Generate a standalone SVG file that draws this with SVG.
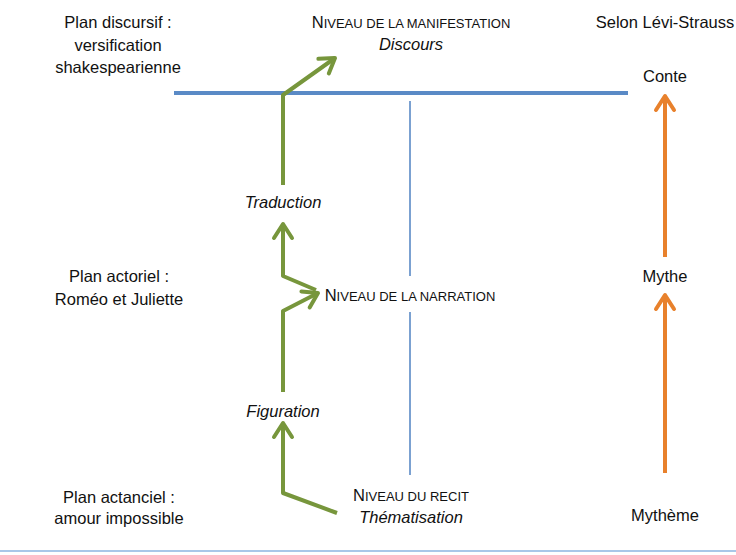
<svg xmlns="http://www.w3.org/2000/svg" width="736" height="555" viewBox="0 0 736 555">
<style>
text{font-family:"Liberation Sans",Arial,sans-serif;font-size:16.5px;fill:#111;text-anchor:middle}
.it{font-style:italic}
.sc{font-size:13px}
.g{fill:none;stroke:#77963c;stroke-width:4;stroke-linejoin:round}
.o{fill:none;stroke:#e8812c;stroke-width:4}
.b{fill:none;stroke:#5a8ac6}
</style>
<defs>
<marker id="ag" markerUnits="userSpaceOnUse" markerWidth="40" markerHeight="40" viewBox="-20 -20 40 40" refX="0" refY="0" orient="auto">
<path d="M-14,-9 L0,0 L-14,9" fill="none" stroke="#77963c" stroke-width="4" stroke-linecap="round" stroke-linejoin="round"/>
</marker>
<marker id="ao" markerUnits="userSpaceOnUse" markerWidth="40" markerHeight="40" viewBox="-20 -20 40 40" refX="0" refY="0" orient="auto">
<path d="M-14,-9 L0,0 L-14,9" fill="none" stroke="#e8812c" stroke-width="4" stroke-linecap="round" stroke-linejoin="round"/>
</marker>
</defs>
<rect width="736" height="555" fill="#fff"/>
<g id="connectors">
<line class="b" x1="174" y1="93" x2="628" y2="93" stroke-width="4"/>
<line class="b" x1="410" y1="101" x2="410" y2="276" stroke-width="1.6"/>
<line class="b" x1="410" y1="312" x2="410" y2="475" stroke-width="1.6"/>
<line x1="0" y1="551" x2="736" y2="551" stroke="#a9c7e8" stroke-width="2"/>
<path class="g" d="M337,513 L283,493 L283,423" marker-end="url(#ag)"/>
<path class="g" d="M283,392 L283,311 L318,293" marker-end="url(#ag)"/>
<path class="g" d="M316,290 L283,276 L283,224" marker-end="url(#ag)"/>
<path class="g" d="M283,185 L283,95 L335,58" marker-end="url(#ag)"/>
<line class="o" x1="665" y1="257" x2="665" y2="96" marker-end="url(#ao)"/>
<line class="o" x1="665" y1="473" x2="665" y2="295" marker-end="url(#ao)"/>
</g>
<g id="plan-discursif"><text x="118" y="28">Plan discursif :</text><text x="118" y="51">versification</text><text x="118" y="73">shakespearienne</text></g>
<g id="plan-actoriel"><text x="119" y="282">Plan actoriel :</text><text x="119" y="305">Roméo et Juliette</text></g>
<g id="plan-actanciel"><text x="119" y="503">Plan actanciel :</text><text x="119" y="524">amour impossible</text></g>
<g id="manifestation"><text x="411" y="28">N<tspan class="sc">IVEAU DE LA MANIFESTATION</tspan></text><text class="it" x="411" y="50">Discours</text></g>
<g id="narration"><text x="410" y="301">N<tspan class="sc">IVEAU DE LA NARRATION</tspan></text></g>
<g id="recit"><text x="411" y="501">N<tspan class="sc">IVEAU DU RECIT</tspan></text><text class="it" x="411" y="523">Thématisation</text></g>
<g id="traduction"><text class="it" x="283" y="208">Traduction</text></g>
<g id="figuration"><text class="it" x="283" y="417">Figuration</text></g>
<g id="levi-strauss"><text x="665" y="28">Selon Lévi-Strauss</text></g>
<g id="conte"><text x="665" y="82">Conte</text></g>
<g id="mythe"><text x="665" y="282">Mythe</text></g>
<g id="mytheme"><text x="665" y="521">Mythème</text></g>
</svg>
